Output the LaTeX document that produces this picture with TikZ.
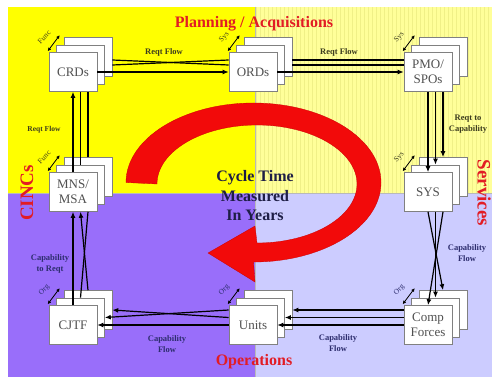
\documentclass[tikz,border=0pt]{standalone}
\usepackage{fontspec}
\setmainfont{Liberation Serif}
\usetikzlibrary{arrows.meta}

\definecolor{quadTL}{RGB}{255,255,0}
\definecolor{quadTR}{RGB}{255,255,153}
\definecolor{quadBL}{RGB}{153,110,250}
\definecolor{quadBR}{RGB}{204,204,255}
\definecolor{gridTR}{RGB}{240,240,135}
\definecolor{titlered}{RGB}{226,28,36}
\definecolor{cyclered}{RGB}{242,10,10}
\definecolor{boxedge}{RGB}{128,128,128}
\definecolor{boxtext}{RGB}{80,80,80}
\definecolor{lblolive}{RGB}{60,60,30}
\definecolor{lblnavy}{RGB}{45,45,110}
\definecolor{centertext}{RGB}{30,30,70}

% a stack of three sheets: back, middle, front, plus the small tag arrow
\newcommand\stackbox[6]{%
  \node[box] (#1c) at (#2+15,#3-15) {};
  \node[box] (#1b) at (#2+7.5,#3-7.5) {};
  \node[box] (#1) at (#2,#3) {#4};
  \draw[tagarr] ([shift={(-1,-1)}]#1.north west) -- ++(12,-16);
  \node[tagtext,text=#6] (#1tag) at ([shift={(-4.5,-15)}]#1.north west) {#5};
}

\begin{document}
\begin{tikzpicture}[x=1pt,y=-1pt,
  box/.style={draw=boxedge, fill=white, line width=0.6pt,
    minimum width=48pt, minimum height=39pt, inner sep=0pt,
    font=\fontsize{13}{14.5}\selectfont, text=boxtext, align=center},
  flow/.style={line width=1.2pt, -{Latex[length=6pt,width=5pt]}},
  plain/.style={line width=1.2pt},
  lbl/.style={font=\bfseries\fontsize{8.5}{10.5}\selectfont, align=center},
  tagtext/.style={font=\fontsize{7.5}{8}\selectfont, rotate=45, inner sep=0pt},
  tagarr/.style={line width=0.8pt,
    {Latex[length=3.5pt,width=3.5pt]}-{Latex[length=3.5pt,width=3.5pt]}},
  title/.style={font=\bfseries\fontsize{16}{18}\selectfont, text=titlered, inner sep=0pt},
]
\useasboundingbox (0,0) rectangle (492,377);
\fill[white] (0,0) rectangle (492,377);

% four quadrants
\fill[quadTL] (8,7) rectangle (255,193);
\fill[quadTR] (255,7) rectangle (492,193);
\draw[gridTR, line width=0.15pt, step=4] (255,7) grid (492,193);
\fill[quadBL] (8,193) rectangle (255,377);
\fill[quadBR] (255,193) rectangle (492,377);
\draw[gray!55, line width=0.5pt] (255,7) -- (255,377) (8,193) -- (492,193);

% the cycle arrow
\fill[cyclered, draw=red!80!black, line width=0.3pt]
  (126,182.5) arc[start angle=180, end angle=450, x radius=127.5, y radius=79.5]
  -- (255,282) -- (208,253) -- (255,226) -- (257,243)
  arc[start angle=450, end angle=180, x radius=100, y radius=59] -- cycle;

\node[font=\bfseries\fontsize{16}{19.5}\selectfont, text=centertext, align=center]
  (cycle) at (255,196) {Cycle Time\\Measured\\In Years};

% titles
\node[title] (plan) at (254,24) {Planning / Acquisitions};
\node[title] (ops) at (254,362) {Operations};
\node[title, font=\bfseries\fontsize{19}{21}\selectfont, rotate=-90] (serv) at (484,193) {Services};
\node[title, font=\bfseries\fontsize{19}{21}\selectfont, rotate=90] (cincs) at (27,193) {CINCs};

% stacks
\stackbox{crd}{73}{72}{CRDs}{Func}{lblolive}
\stackbox{ord}{253}{72}{ORDs}{Sys}{lblolive}
\stackbox{pmo}{428}{72}{PMO/\\SPOs}{Sys}{lblolive}
\stackbox{sys}{428}{192}{SYS}{Sys}{lblolive}
\stackbox{comp}{428}{325}{Comp\\Forces}{Org}{lblnavy}
\stackbox{units}{253}{325}{Units}{Org}{lblnavy}
\stackbox{cjtf}{73}{325}{CJTF}{Org}{lblnavy}
\stackbox{mns}{73}{192}{MNS/\\MSA}{Func}{lblolive}

% CRDs -> ORDs
\draw[plain] ([shift={(0,3)}]crdc.east) -- ([shift={(0,-7)}]ord.west);
\draw[plain] ([shift={(0,8)}]crdc.east) -- ([shift={(0,-12)}]ord.west);
\draw[flow] (crd.east) -- (ord.west);
\node[lbl, text=lblolive] (l1) at (164,52) {Reqt Flow};

% ORDs -> PMO/SPOs
\draw[plain] ([shift={(0,3)}]ordc.east) -- ([shift={(0,-12)}]pmo.west);
\draw[plain] ([shift={(0,8)}]ordc.east) -- ([shift={(0,-7)}]pmo.west);
\draw[flow] (ord.east) -- (pmo.west);
\node[lbl, text=lblolive] (l2) at (339,52) {Reqt Flow};

% PMO/SPOs -> SYS
\draw[flow] (pmo.south) -- (sys.north);
\draw[flow] (pmo.south -| sysb.north) -- (sysb.north);
\draw[flow] (pmo.south -| sysc.north) -- (sysc.north);
\node[lbl, text=lblolive] (l3) at (468,124) {Reqt to\\Capability};

% SYS -> Comp Forces
\draw[flow] (sys.south) -- (compc.north);
\draw[flow] (sys.south -| compb.north) -- (compb.north);
\draw[flow] (sys.south -| compc.north) -- (comp.north);
\node[lbl, text=lblnavy] (l4) at (467,253) {Capability\\Flow};

% Comp Forces -> Units
\draw[flow] (comp.west |- unitsc.east) -- (unitsc.east);
\draw[flow] (comp.west |- unitsb.east) -- (unitsb.east);
\draw[flow] (comp.west) -- (units.east);
\node[lbl, text=lblnavy] (l5) at (338,343) {Capability\\Flow};

% Units -> CJTF
\draw[flow] (units.west |- cjtfc.east) -- (cjtfb.east);
\draw[flow] (units.west |- cjtfb.east) -- (cjtfc.east);
\draw[flow] (units.west) -- (cjtf.east);
\node[lbl, text=lblnavy] (l6) at (167,344) {Capability\\Flow};

% CJTF -> MNS/MSA
\draw[flow] (cjtf.north) -- (mns.south);
\draw[plain] (cjtfb.north) -- (mns.south -| mnsc.south);
\draw[flow] (cjtfc.north) -- (mns.south -| mnsb.south);
\node[lbl, text=lblnavy] (l7) at (50,264) {Capability\\to Reqt};

% MNS/MSA -> CRDs
\draw[flow] (mns.north) -- (crd.south);
\draw[plain] (mnsb.north) -- (crd.south -| mnsb.north);
\draw[plain] (mnsc.north) -- (crd.south -| mnsc.north);
\node[lbl, text=lblolive, font=\bfseries\fontsize{7.5}{9}\selectfont] (l8) at (44,130) {Reqt Flow};
\end{tikzpicture}
\end{document}
